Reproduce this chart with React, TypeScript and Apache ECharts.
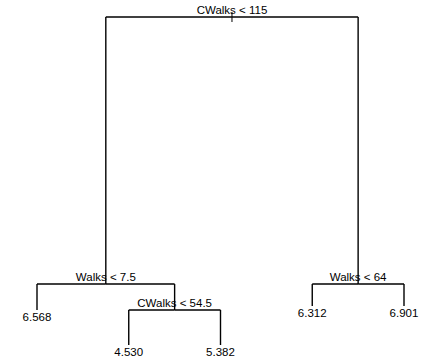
import React, { useEffect, useRef } from "react";
import * as echarts from "echarts";

// Regression tree (R "tree" style plot)
const nodeLabels = ["CWalks < 115", "Walks < 7.5", "6.568", "CWalks < 54.5", "4.530", "5.382", "Walks < 64", "6.312", "6.901"];
const nodeParent = [-1, 0, 1, 1, 3, 3, 0, 6, 6];
const nodeIsLeaf = [false, false, true, false, true, true, false, true, true];
// horizontal position (leaf order 1..5, internal nodes at midpoint of children)
const nodeX = [3.125, 1.75, 1, 2.5, 2, 3, 4.5, 4, 5];
// vertical position (deviance-proportional height)
const nodeHeight = [207.2, 38.5, 22.1, 22.1, 0, 0, 38.5, 24.6, 24.6];

export default function App() {
  const ref = useRef<HTMLDivElement>(null);
  useEffect(() => {
    if (!ref.current) return;
    const chart = echarts.init(ref.current, undefined, { renderer: "svg" });
    const data = nodeLabels.map((_, i) => {
      const p = nodeParent[i];
      return [nodeX[i], nodeHeight[i], p >= 0 ? nodeX[p] : nodeX[i], p >= 0 ? nodeHeight[p] : nodeHeight[i], i];
    });
    const font = "Liberation Sans, Arial, sans-serif";
    chart.setOption({
      animation: false,
      grid: { left: 37, right: 29, top: 17, bottom: 17 },
      xAxis: { type: "value", min: 1, max: 5, show: false },
      yAxis: { type: "value", min: 0, max: 207.2, show: false },
      series: [
        {
          type: "custom",
          coordinateSystem: "cartesian2d",
          data,
          clip: false,
          renderItem: (params: any, api: any) => {
            const x = api.value(0);
            const y = api.value(1);
            const px = api.value(2);
            const py = api.value(3);
            const i = api.value(4);
            const c = api.coord([x, y]);
            const cp = api.coord([x, py]);
            const pp = api.coord([px, py]);
            const lineStyle = { stroke: "#000", lineWidth: 1.4 };
            const children: any[] = [];
            if (nodeParent[i] >= 0) {
              children.push({ type: "line", shape: { x1: cp[0], y1: cp[1], x2: c[0], y2: c[1] }, style: lineStyle });
              children.push({ type: "line", shape: { x1: cp[0], y1: cp[1], x2: pp[0], y2: pp[1] }, style: lineStyle });
            } else {
              children.push({ type: "line", shape: { x1: c[0], y1: c[1] - 5, x2: c[0], y2: c[1] + 5 }, style: { stroke: "#000", lineWidth: 1 } });
            }
            children.push({
              type: "text",
              x: c[0],
              y: nodeIsLeaf[i] ? c[1] + 7 : c[1] - 7,
              style: {
                text: nodeLabels[i],
                fill: "#000",
                fontSize: 11.5,
                fontFamily: font,
                align: "center",
                verticalAlign: "middle",
              },
            });
            return { type: "group", children };
          },
        },
      ],
    });
    return () => chart.dispose();
  }, []);
  return <div ref={ref} style={{ position: "fixed", left: 0, top: 0, width: 433, height: 362, background: "#fff" }} />;
}
